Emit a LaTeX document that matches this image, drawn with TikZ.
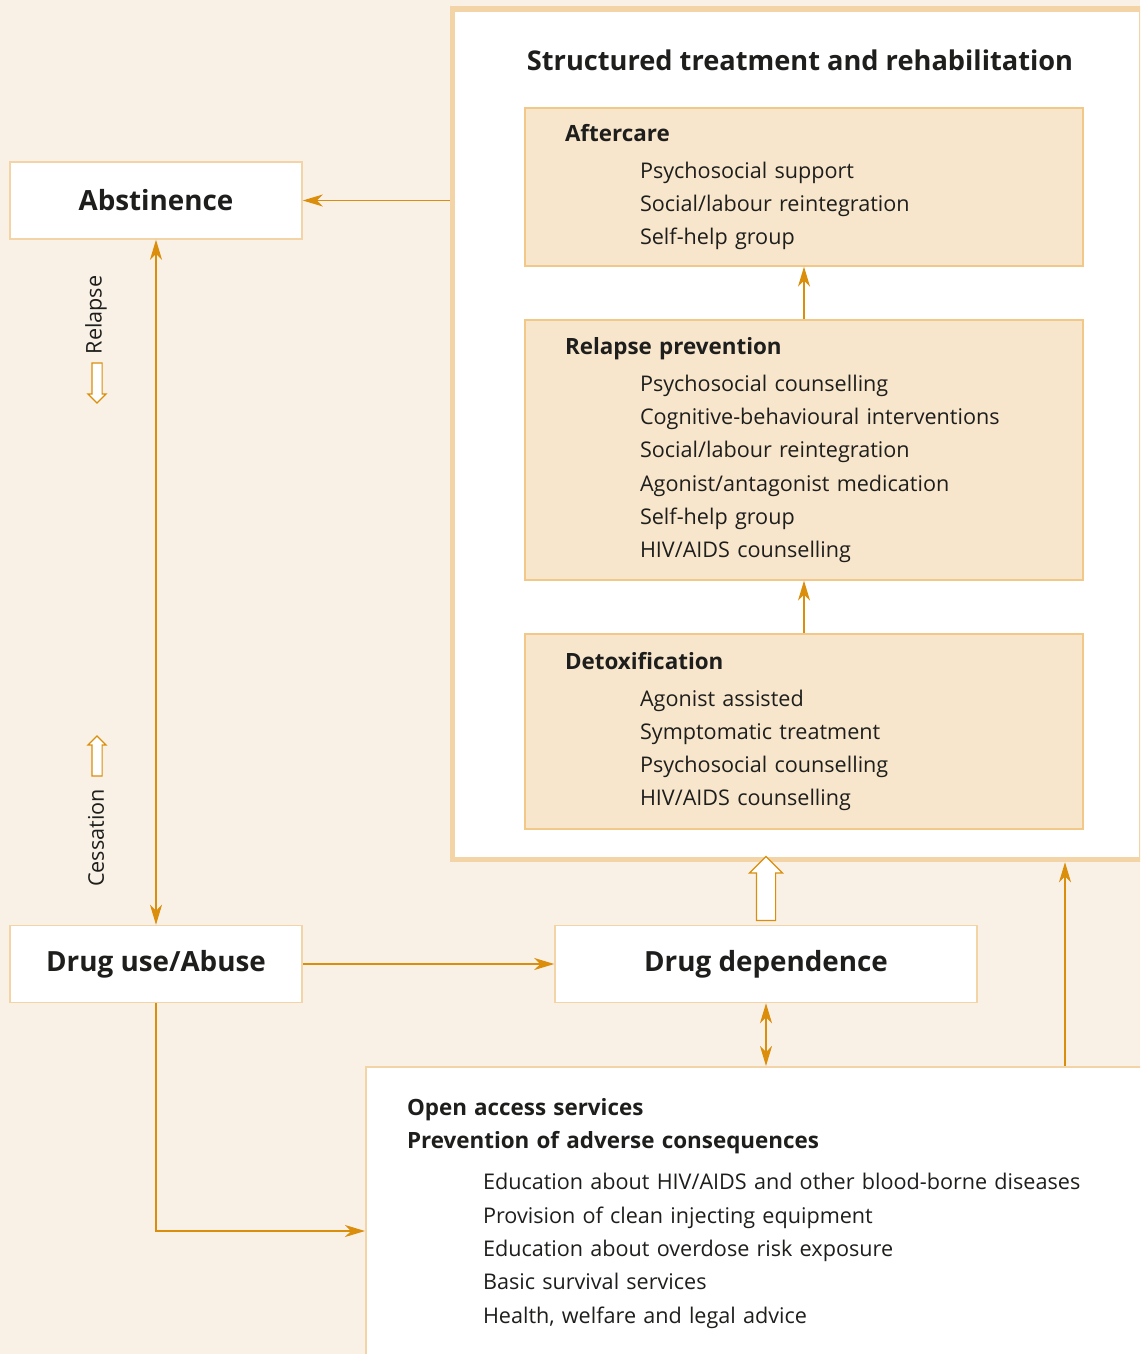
\documentclass[tikz,border=0pt]{standalone}
\usepackage{fontspec}
\setmainfont{Open Sans}
\usetikzlibrary{shapes,arrows.meta,positioning,calc}

\definecolor{pagebg}{HTML}{FAF1E6}
\definecolor{rim}{HTML}{F2D4A6}
\definecolor{panelfill}{HTML}{F8E6CC}
\definecolor{panelrim}{HTML}{F2C889}
\definecolor{flowcol}{HTML}{DA8E0B}
\definecolor{ink}{HTML}{1E1E1C}

\newcommand{\hd}[1]{{\fontsize{22.4}{33.3}\selectfont\bfseries #1}}

\begin{document}
\begin{tikzpicture}[x=1pt, y=-1pt, >={Stealth[length=20pt,width=12pt,inset=6pt]},
  every node/.style={text=ink},
  frame/.style={rectangle, draw=rim, line width=5.5pt, fill=white, inner sep=0pt},
  stage/.style={rectangle, draw=rim, line width=1.5pt, fill=white, inner sep=0pt,
    minimum width=292pt, minimum height=77pt, font=\fontsize{27.8}{30}\selectfont\bfseries},
  panel/.style={rectangle, draw=panelrim, line width=1.3pt, fill=panelfill, align=left,
    text width=478pt, inner xsep=40pt, inner ysep=0pt, font=\fontsize{21.6}{33.3}\selectfont},
  openbox/.style={rectangle, draw=rim, line width=2pt, fill=white, align=left,
    text width=712pt, inner xsep=41pt, inner ysep=0pt, minimum height=293pt,
    font=\fontsize{21.6}{33.3}\selectfont},
  flow/.style={draw=flowcol, line width=1.4pt},
  hollow/.style={single arrow, draw=flowcol, fill=white, line width=1.2pt, inner xsep=0pt,
    inner ysep=4.5pt, single arrow head extend=4pt, minimum height=40pt},
  sidelabel/.style={rotate=90, font=\fontsize{21.6}{26}\selectfont}]

\useasboundingbox (0,0) rectangle (1140,1354);
\clip (0,0) rectangle (1140,1354);
\fill[pagebg] (0,0) rectangle (1140,1354);

% treatment frame and its three stages
\node[frame, minimum width=689pt, minimum height=850.5pt] (outer) at (797,434.25) {};
\node[font=\fontsize{27.2}{30}\selectfont\bfseries] (title) at (800,60) {Structured treatment and rehabilitation};

\node[panel, minimum height=158pt] (after) at (804,187) {\hd{Aftercare}\\[3.7pt]
  \hspace*{75pt}Psychosocial support\\
  \hspace*{75pt}Social/labour reintegration\\
  \hspace*{75pt}Self-help group};

\node[panel, minimum height=260pt] (rel) at (804,450) {\hd{Relapse prevention}\\[3.7pt]
  \hspace*{75pt}Psychosocial counselling\\
  \hspace*{75pt}Cognitive-behavioural interventions\\
  \hspace*{75pt}Social/labour reintegration\\
  \hspace*{75pt}Agonist/antagonist medication\\
  \hspace*{75pt}Self-help group\\
  \hspace*{75pt}HIV/AIDS counselling};

\node[panel, minimum height=195pt] (det) at (804,731.5) {\hd{Detoxification}\\[3.7pt]
  \hspace*{75pt}Agonist assisted\\
  \hspace*{75pt}Symptomatic treatment\\
  \hspace*{75pt}Psychosocial counselling\\
  \hspace*{75pt}HIV/AIDS counselling};

% states of use
\node[stage] (abst) at (156,200.5) {Abstinence};
\node[stage] (use) at (156,964) {Drug use/Abuse};
\node[stage, minimum width=422pt] (dep) at (766,964) {Drug dependence};

\node[openbox] (open) at (763,1213.5) {\hd{Open access services}\\
  \hd{Prevention of adverse consequences}\\[7.7pt]
  \hspace*{76pt}Education about HIV/AIDS and other blood-borne diseases\\
  \hspace*{76pt}Provision of clean injecting equipment\\
  \hspace*{76pt}Education about overdose risk exposure\\
  \hspace*{76pt}Basic survival services\\
  \hspace*{76pt}Health, welfare and legal advice};

\node[sidelabel] (relapse) at (96,315) {Relapse};
\node[hollow, rotate=-90] (down) at (97,380.5) {};
\node[sidelabel] (cess) at (96,838) {Cessation};
\node[hollow, rotate=90] (up) at (97,758.5) {};

% connectors
\draw[flow,->] (abst.east -| outer.west) -- (abst.east);
\draw[flow,<->] (abst.south) -- (use.north);
\draw[flow,->] (use.east) -- (dep.west);
\draw[flow,->] (use.south) |- ([yshift=-17.5pt]open.west);
\draw[flow,<->] (dep.south) -- (dep.south |- open.north);
\coordinate (rx) at (1065,0);
\draw[flow,->] (open.north -| rx) -- (outer.south -| rx);
\draw[flow,->] (det.north) -- (rel.south);
\draw[flow,->] (rel.north) -- (after.south);
\node[hollow, rotate=90, inner ysep=9pt, single arrow head extend=7pt, minimum height=64pt]
  (lift) at ($(dep.north)+(0,-31.5)$) {};

\end{tikzpicture}
\end{document}
